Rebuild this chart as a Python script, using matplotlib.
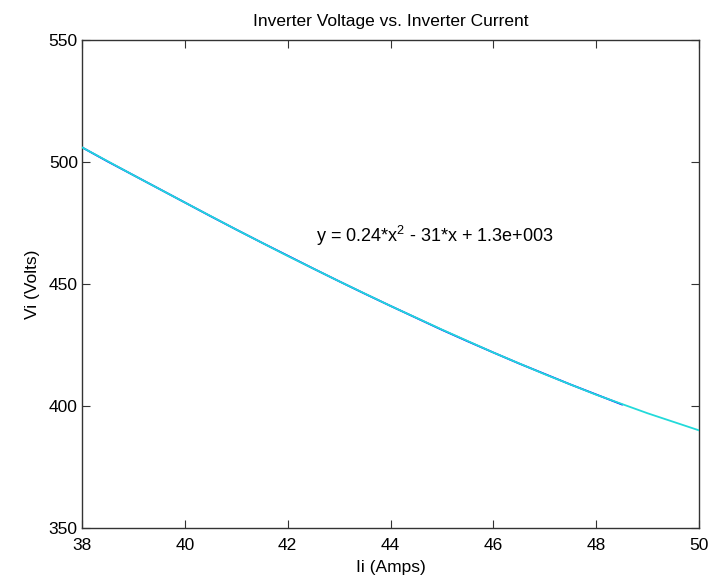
import numpy as np
import matplotlib
matplotlib.use("Agg")
import matplotlib.pyplot as plt

plt.rcParams['font.family'] = ['Liberation Sans', 'DejaVu Sans']
plt.rcParams['mathtext.default'] = 'regular'

# measured data (inverter current vs voltage)
Ii = [38.0, 38.5, 39.0, 39.5, 40.0, 40.5, 41.0, 41.5, 42.0, 42.5, 43.0, 43.5,
      44.0, 44.5, 45.0, 45.5, 46.0, 46.5, 47.0, 47.5, 48.0, 48.5]
Vi = [506.0, 500.2, 494.6, 489.0, 483.4, 477.8, 472.3, 466.9, 461.6, 456.3, 451.1, 446.0,
      441.0, 436.1, 431.2, 426.5, 421.9, 417.4, 413.1, 408.8, 404.7, 400.6]

# fitted curve
Ii_fit = [38, 39, 40, 41, 42, 43, 44, 45, 46, 47, 48, 49, 50]
Vi_fit = [506.0, 494.6, 483.4, 472.3, 461.5, 451.1, 441.0, 431.3, 421.9, 413.0, 404.6, 397.0, 390.0]

fit_label = "y = 0.24*x$^{2}$ - 31*x + 1.3e+003"

fig = plt.figure(figsize=(7.11, 5.82), dpi=100)
ax = fig.add_axes([0.1153, 0.0928, 0.868, 0.8385])

ax.plot(Ii, Vi, color="blue", lw=1.3, zorder=2)
ax.plot(Ii_fit, Vi_fit, color="#22dada", lw=1.3, zorder=3)

ax.text(42.55, 469.7, fit_label, fontsize=13, va="center", ha="left")

ax.set_xlim(38, 50)
ax.set_ylim(350, 550)
ax.set_xticks(np.arange(38, 51, 2))
ax.set_yticks(np.arange(350, 551, 50))
ax.tick_params(direction="in", length=6, top=True, right=True, labelsize=12.5,
               color="#333333")
ax.tick_params(axis="x", pad=7)
ax.tick_params(axis="y", pad=3)
for s in ax.spines.values():
    s.set_color("#333333")
    s.set_linewidth(1.0)

ax.set_title("Inverter Voltage vs. Inverter Current", fontsize=12.5, pad=10)
ax.set_xlabel("Ii (Amps)", fontsize=12.5, labelpad=5)
ax.set_ylabel("Vi (Volts)", fontsize=12.5, labelpad=6)

fig.savefig("out.png", dpi=100)
